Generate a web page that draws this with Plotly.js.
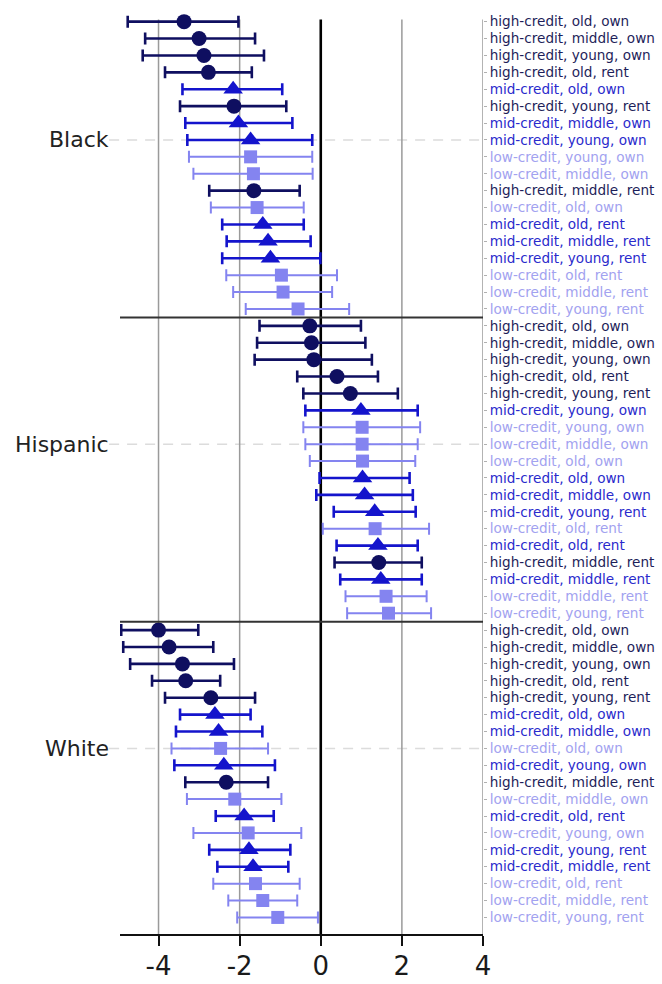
<!DOCTYPE html>
<html>
<head>
<meta charset="utf-8">
<script src="https://cdn.plot.ly/plotly-3.0.1.min.js"></script>
<style>
  html, body { margin: 0; padding: 0; background: #ffffff; }
  #chart { width: 662px; height: 984px; }
</style>
</head>
<body>
<div id="chart"></div>
<script>
// ---------------- data ----------------
const panels = ['Black', 'Hispanic', 'White'];

const blackLabels = [
  'high-credit, old, own', 'high-credit, middle, own', 'high-credit, young, own', 'high-credit, old, rent',
  'mid-credit, old, own', 'high-credit, young, rent', 'mid-credit, middle, own', 'mid-credit, young, own',
  'low-credit, young, own', 'low-credit, middle, own', 'high-credit, middle, rent', 'low-credit, old, own',
  'mid-credit, old, rent', 'mid-credit, middle, rent', 'mid-credit, young, rent', 'low-credit, old, rent',
  'low-credit, middle, rent', 'low-credit, young, rent'
];
const blackEst = [-3.37, -3.00, -2.88, -2.77, -2.16, -2.14, -2.03, -1.73, -1.73, -1.66, -1.65, -1.57, -1.43, -1.30, -1.24, -0.97, -0.93, -0.56];
const blackLo  = [-4.76, -4.33, -4.39, -3.84, -3.41, -3.47, -3.34, -3.29, -3.25, -3.14, -2.75, -2.71, -2.43, -2.32, -2.43, -2.33, -2.16, -1.85];
const blackHi  = [-2.03, -1.62, -1.40, -1.70, -0.95, -0.85, -0.70, -0.21, -0.21, -0.20, -0.52, -0.42, -0.42, -0.25, -0.01, 0.40, 0.28, 0.70];

const hispLabels = [
  'high-credit, old, own', 'high-credit, middle, own', 'high-credit, young, own', 'high-credit, old, rent',
  'high-credit, young, rent', 'mid-credit, young, own', 'low-credit, young, own', 'low-credit, middle, own',
  'low-credit, old, own', 'mid-credit, old, own', 'mid-credit, middle, own', 'mid-credit, young, rent',
  'low-credit, old, rent', 'mid-credit, old, rent', 'high-credit, middle, rent', 'mid-credit, middle, rent',
  'low-credit, middle, rent', 'low-credit, young, rent'
];
const hispEst = [-0.27, -0.23, -0.17, 0.40, 0.73, 0.99, 1.02, 1.02, 1.03, 1.03, 1.08, 1.33, 1.34, 1.41, 1.43, 1.48, 1.61, 1.67];
const hispLo  = [-1.51, -1.57, -1.63, -0.58, -0.43, -0.38, -0.43, -0.38, -0.27, -0.03, -0.11, 0.32, 0.05, 0.39, 0.34, 0.48, 0.61, 0.65];
const hispHi  = [0.99, 1.10, 1.26, 1.41, 1.90, 2.39, 2.45, 2.39, 2.33, 2.19, 2.27, 2.34, 2.67, 2.39, 2.49, 2.49, 2.61, 2.72];

const whiteLabels = [
  'high-credit, old, own', 'high-credit, middle, own', 'high-credit, young, own', 'high-credit, old, rent',
  'high-credit, young, rent', 'mid-credit, old, own', 'mid-credit, middle, own', 'low-credit, old, own',
  'mid-credit, young, own', 'high-credit, middle, rent', 'low-credit, middle, own', 'mid-credit, old, rent',
  'low-credit, young, own', 'mid-credit, young, rent', 'mid-credit, middle, rent', 'low-credit, old, rent',
  'low-credit, middle, rent', 'low-credit, young, rent'
];
const whiteEst = [-4.00, -3.74, -3.41, -3.33, -2.71, -2.61, -2.52, -2.47, -2.39, -2.33, -2.12, -1.89, -1.79, -1.77, -1.67, -1.61, -1.43, -1.06];
const whiteLo  = [-4.92, -4.87, -4.70, -4.16, -3.84, -3.47, -3.57, -3.68, -3.61, -3.34, -3.30, -2.59, -3.14, -2.75, -2.55, -2.65, -2.28, -2.06];
const whiteHi  = [-3.02, -2.65, -2.14, -2.48, -1.62, -1.73, -1.44, -1.30, -1.13, -1.30, -0.97, -1.16, -0.48, -0.75, -0.80, -0.52, -0.58, -0.07];

const xTickVals = [-4, -2, 0, 2, 4];

// ---------------- styling ----------------
const groups = ['high-credit', 'mid-credit', 'low-credit'];
const groupStyle = {
  'high-credit': {color: '#0f0f60', text: '#1e1e5a', symbol: 'circle', size: 15, lw: 2.6},
  'mid-credit':  {color: '#1414cc', text: '#2a2acc', symbol: 'triangle-up', size: 17, lw: 2.6},
  'low-credit':  {color: '#8484f0', text: '#a2a2f0', symbol: 'square', size: 13, lw: 2.0}
};

const panelData = [
  {labels: blackLabels, est: blackEst, lo: blackLo, hi: blackHi},
  {labels: hispLabels,  est: hispEst,  lo: hispLo,  hi: hispHi},
  {labels: whiteLabels, est: whiteEst, lo: whiteLo, hi: whiteHi}
];
const nRows = blackLabels.length;

// ---------------- build traces ----------------
const traces = [];
const tickvals = [], ticktext = [];
groups.slice().reverse().forEach(g => {
  const xs = [], ys = [], ep = [], em = [];
  panelData.forEach((pd, p) => {
    pd.labels.forEach((lab, r) => {
      if (lab.startsWith(g)) {
        xs.push(pd.est[r]);
        ys.push(p * nRows + r);
        ep.push(pd.hi[r] - pd.est[r]);
        em.push(pd.est[r] - pd.lo[r]);
      }
    });
  });
  const st = groupStyle[g];
  traces.push({
    type: 'scatter', mode: 'markers', x: xs, y: ys, name: g,
    marker: {symbol: st.symbol, size: st.size, color: st.color, line: {width: 0}},
    error_x: {type: 'data', symmetric: false, array: ep, arrayminus: em,
              color: st.color, thickness: st.lw, width: 6},
    hoverinfo: 'x+name'
  });
});

panelData.forEach((pd, p) => {
  pd.labels.forEach((lab, r) => {
    const g = groups.find(k => lab.startsWith(k));
    tickvals.push(p * nRows + r);
    ticktext.push('<span style="color:' + groupStyle[g].text + '">' + lab + '</span>');
  });
});

// ---------------- shapes / annotations ----------------
const yTop = -0.12, yBot = 3 * nRows;
const shapes = [];
panels.forEach((name, p) => {
  shapes.push({type: 'line', xref: 'paper', x0: -0.03, x1: 1.0, yref: 'y',
               y0: p * nRows + 7, y1: p * nRows + 7,
               line: {color: '#dcdcdc', width: 1.5, dash: '10px,8px'}, layer: 'below'});
});
xTickVals.forEach(v => {
  shapes.push({type: 'line', xref: 'x', x0: v, x1: v, yref: 'y', y0: yTop, y1: yBot,
               line: {color: v === 0 ? '#000000' : '#9a9a9a', width: v === 0 ? 2.6 : 1.5},
               layer: 'below'});
});
[1, 2].forEach(p => {
  shapes.push({type: 'line', xref: 'paper', x0: 0, x1: 1, yref: 'y',
               y0: p * nRows - 0.5, y1: p * nRows - 0.5,
               line: {color: '#333333', width: 2}, layer: 'above'});
});

const annotations = panels.map((name, p) => ({
  xref: 'paper', x: 0, xanchor: 'right', xshift: -9,
  yref: 'y', y: p * nRows + 7, yanchor: 'middle',
  text: name, showarrow: false,
  font: {family: 'DejaVu Sans, Arial, sans-serif', size: 22, color: '#222222'}
}));

const layout = {
  width: 662, height: 984,
  margin: {l: 120, r: 179, t: 0, b: 50},
  paper_bgcolor: '#ffffff', plot_bgcolor: '#ffffff',
  showlegend: false,
  xaxis: {
    range: [-4.95, 4.0], tickvals: xTickVals, ticktext: xTickVals.map(String),
    showgrid: false, zeroline: false,
    showline: true, linecolor: '#111111', linewidth: 2,
    ticks: 'outside', ticklen: 10, tickwidth: 2, tickcolor: '#111111',
    ticklabelstandoff: -2,
    tickfont: {family: 'DejaVu Sans, Arial, sans-serif', size: 26, color: '#1a1a1a'}
  },
  yaxis: {
    range: [53.98, -1.28], side: 'right',
    tickvals: tickvals, ticktext: ticktext,
    showgrid: false, zeroline: false, showline: false,
    ticks: 'outside', ticklen: 3, tickwidth: 1, tickcolor: '#b0b0b0',
    tickfont: {family: 'DejaVu Sans, Arial, sans-serif', size: 13.6, color: '#333'}
  },
  shapes: shapes,
  annotations: annotations
};

Plotly.newPlot('chart', traces, layout, {displayModeBar: false, staticPlot: true});
</script>
</body>
</html>
